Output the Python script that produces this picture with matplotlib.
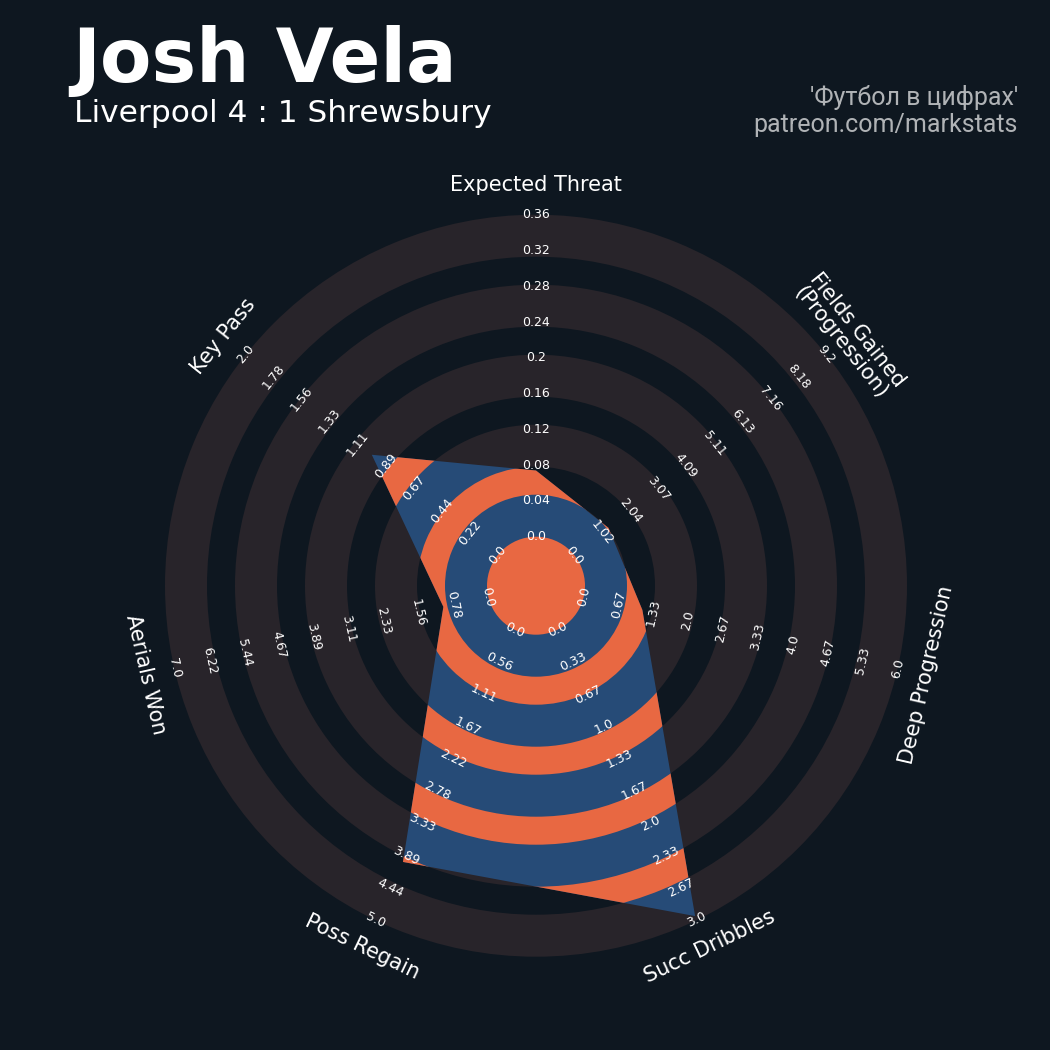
import numpy as np
import matplotlib
matplotlib.use('Agg')
import matplotlib.pyplot as plt
from matplotlib.patches import Wedge, Polygon, Circle

# ---- data ----
params = ['Expected Threat', 'Fields Gained\n(Progression)', 'Deep Progression',
          'Succ Dribbles', 'Poss Regain', 'Aerials Won', 'Key Pass']
low = [0, 0, 0, 0, 0, 0, 0]
high = [0.36, 9.2, 6.0, 3.0, 5.0, 7.0, 2.0]
values = [0.074, 1.25, 1.12, 2.96, 4.0, 1.0, 1.0]
title = 'Josh Vela'
subtitle = 'Liverpool 4 : 1 Shrewsbury'
credit1 = "'Футбол в цифрах'"
credit2 = 'patreon.com/markstats'

# ---- style ----
BG = '#0e1720'
RING = '#28242a'
BLUE = '#264b77'
ORANGE = '#e86842'
TXT = '#ffffff'

center_r = 3.5
ring_w = 3.0
gap_w = 2.0
n_rings = 5
outer_r = center_r + n_rings * ring_w + (n_rings - 1) * gap_w
n_labels = 10

fig = plt.figure(figsize=(10.5, 10.5), dpi=100, facecolor=BG)
ax = fig.add_axes([0, 0, 1, 1])
ax.set_facecolor(BG)
cx_px, cy_px, ppu = 536, 585.7, 14.0
ax.set_xlim(-cx_px / ppu, (1050 - cx_px) / ppu)
ax.set_ylim((cy_px - 1050) / ppu, cy_px / ppu)
ax.axis('off')

# background rings
for i in range(n_rings):
    r_in = center_r + i * (ring_w + gap_w)
    ax.add_patch(Wedge((0, 0), r_in + ring_w, 0, 360, width=ring_w,
                       facecolor=RING, edgecolor='none', zorder=1))

# radar polygon
n = len(params)
angles = np.deg2rad(90 - np.arange(n) * 360 / n)
vals = np.array(values, dtype=float)
lo = np.array(low, dtype=float)
hi = np.array(high, dtype=float)
frac = np.clip((vals - lo) / (hi - lo), 0, 1)
rad = center_r + frac * (outer_r - center_r)
verts = np.column_stack([rad * np.cos(angles), rad * np.sin(angles)])
poly = Polygon(verts, closed=True, facecolor=BLUE, edgecolor='none', zorder=2)
ax.add_patch(poly)

# orange rings clipped to the radar
c = Circle((0, 0), center_r, facecolor=ORANGE, edgecolor='none', zorder=3)
ax.add_patch(c)
c.set_clip_path(poly)
for i in range(n_rings - 1):
    r_in = center_r + ring_w + i * (ring_w + gap_w)
    w = Wedge((0, 0), r_in + gap_w, 0, 360, width=gap_w,
              facecolor=ORANGE, edgecolor='none', zorder=3)
    ax.add_patch(w)
    w.set_clip_path(poly)


def rot_for(theta_deg):
    a = (theta_deg + 180) % 360 - 180
    if a > 0:
        return a - 90
    return a + 90


# range labels
label_r = np.linspace(center_r, outer_r, n_labels)
for k in range(n):
    th = 90 - k * 360 / n
    rot = rot_for(th)
    ticks = np.linspace(low[k], high[k], n_labels)
    for r, t in zip(label_r, ticks):
        ax.text(r * np.cos(np.deg2rad(th)), r * np.sin(np.deg2rad(th)),
                str(round(float(t), 2)), fontsize=9, color=TXT,
                ha='center', va='center', rotation=rot,
                rotation_mode='anchor', zorder=5)

# param labels
param_r = 28.6
for k in range(n):
    th = 90 - k * 360 / n
    rot = rot_for(th)
    ax.text(param_r * np.cos(np.deg2rad(th)), param_r * np.sin(np.deg2rad(th)),
            params[k], fontsize=15, color=TXT, ha='center', va='center',
            rotation=rot, rotation_mode='anchor', zorder=5, linespacing=1.0)

# titles
fig.text(72 / 1050, 1 - 82 / 1050, title, fontsize=54, fontweight='bold',
         color=TXT, ha='left', va='baseline')
fig.text(74 / 1050, 1 - 122 / 1050, subtitle, fontsize=22.5,
         color=TXT, ha='left', va='baseline')
fig.text(1018 / 1050, 1 - 105 / 1050, credit1, fontsize=18, family='Roboto',
         color='#b0b3b6', ha='right', va='baseline')
fig.text(1018 / 1050, 1 - 132 / 1050, credit2, fontsize=18, family='Roboto',
         color='#b0b3b6', ha='right', va='baseline')

fig.savefig('out.png', dpi=100, facecolor=BG)
